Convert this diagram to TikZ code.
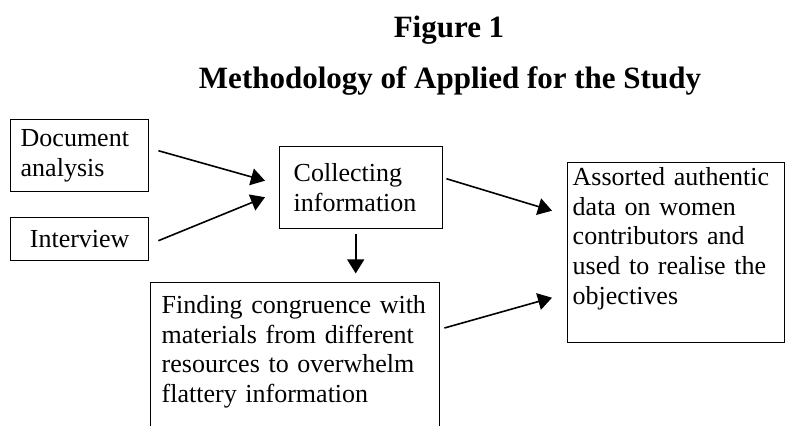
\documentclass[tikz,border=0pt]{standalone}
\usepackage{fontspec}
\setmainfont{Liberation Serif}
\usetikzlibrary{arrows.meta}

\begin{document}
\begin{tikzpicture}
        [x=0.5pt, y=-0.5pt,
         title_style/.style={font=\bfseries\fontsize{15.5}{18}\selectfont, anchor=base},
         box_style/.style={draw=black, line width=0.7pt, anchor=north west, align=left,
                           font=\fontsize{13}{14.8}\selectfont},
         edge_style/.style={draw=black, line width=0.8pt, -{Triangle[length=7pt,width=8.5pt]}}]
            \useasboundingbox (0,0) rectangle (786,425);
            \clip (0,0) rectangle (786,425);
            \node[title_style] (fig) at (449,37) {Figure 1};
            \node[title_style] (title) at (450,88) {Methodology of Applied for the Study};
            \node[box_style, text width=59pt, inner xsep=5pt, inner ysep=0pt, minimum height=36pt] (doc) at (10,119) {Document\\analysis};
            \node[box_style, text width=59pt, inner xsep=5pt, inner ysep=0pt, minimum height=21.5pt, align=center] (interview) at (10,217) {Interview};
            \node[box_style, text width=67.5pt, inner xsep=7pt, inner ysep=0pt, minimum height=41pt] (coll) at (279,146) {Collecting\\information};
            \node[box_style, text width=133.5pt, inner xsep=5.5pt, inner ysep=6.5pt, text height=9pt, text depth=65pt] (finding) at (150,282)
                {Finding congruence with\\materials from different\\resources to overwhelm\\flattery information};
            \node[box_style, text width=103.5pt, inner xsep=2.5pt, inner ysep=2.5pt, text height=9pt, text depth=76pt] (result) at (567,162)
                {Assorted authentic\\data on women\\contributors and\\used to realise the\\objectives};
            \draw[edge_style]  ([xshift=4.5pt,yshift=2.5pt]doc.east) -- ([xshift=-7pt,yshift=3.5pt]coll.west);
            \draw[edge_style]  ([xshift=4.5pt,yshift=-0.75pt]interview.east) -- ([xshift=-7pt,yshift=-4.75pt]coll.west);
            \draw[edge_style]  ([xshift=-2.75pt,yshift=-2.5pt]coll.south) -- ([xshift=-2.75pt,yshift=-22pt]coll.south);
            \draw[edge_style]  ([xshift=1.5pt,yshift=4.5pt]coll.east) -- ([xshift=-7.5pt,yshift=21pt]result.west);
            \draw[edge_style]  ([xshift=2pt,yshift=-23pt]finding.north east) -- ([xshift=-7.5pt,yshift=-22.5pt]result.west);
        \end{tikzpicture}
\end{document}
